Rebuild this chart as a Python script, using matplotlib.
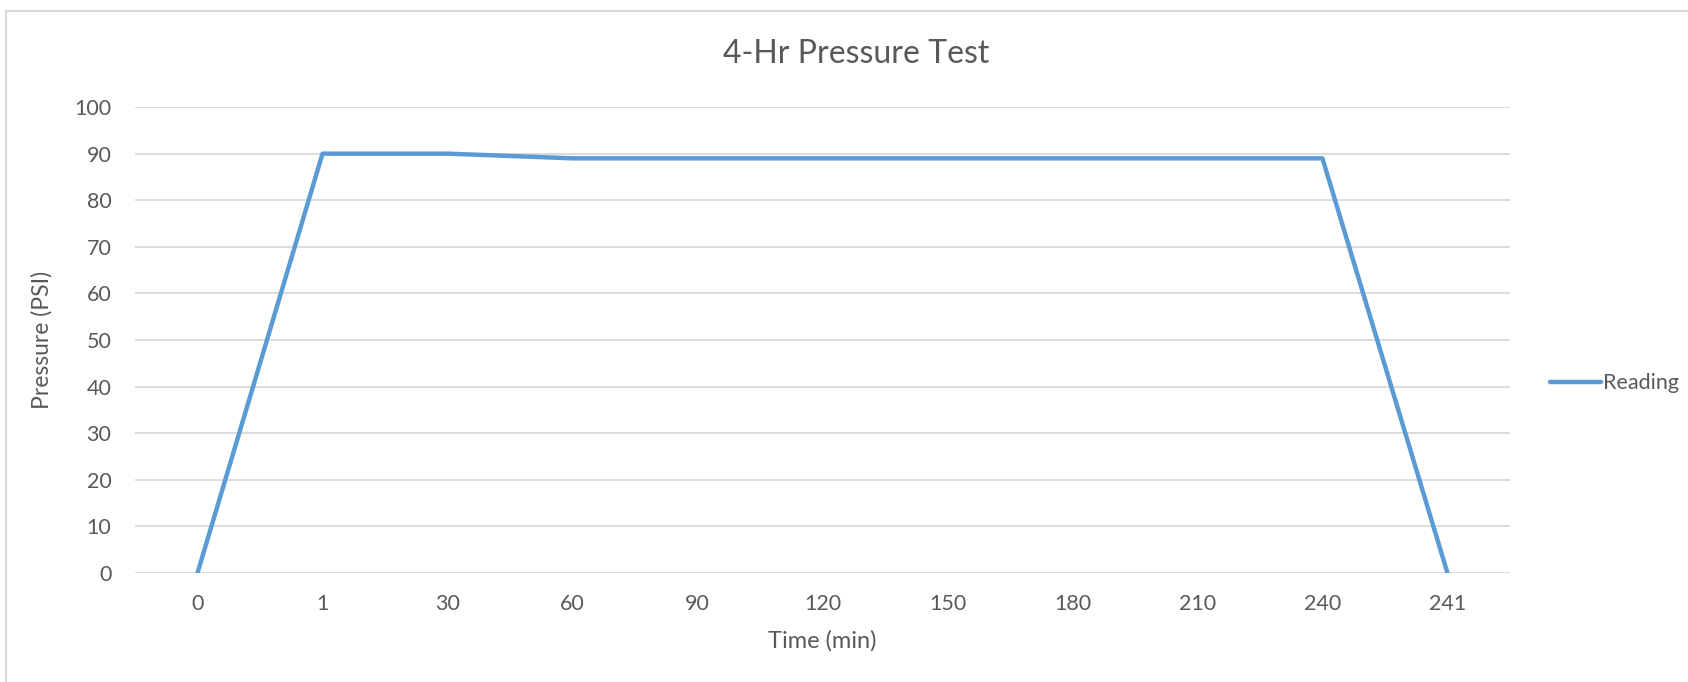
import matplotlib
matplotlib.use("Agg")
import matplotlib.pyplot as plt
from matplotlib.patches import Rectangle
from matplotlib.lines import Line2D

# data
time_labels = ["0", "1", "30", "60", "90", "120", "150", "180", "210", "240", "241"]
pressure = [0, 90, 90, 89, 89, 89, 89, 89, 89, 89, 0]
y_ticks = [0, 10, 20, 30, 40, 50, 60, 70, 80, 90, 100]

line_color = "#5B9BD5"
text_color = "#595959"
grid_color = "#D9D9D9"

plt.rcParams["font.family"] = ["Lato", "DejaVu Sans"]

fig = plt.figure(figsize=(16.88, 6.82), dpi=100)
ax = fig.add_axes([0.080, 0.160, 0.8145, 0.683])

x = list(range(len(time_labels)))
ax.plot(x, pressure, color=line_color, linewidth=3.2, solid_capstyle="round",
        solid_joinstyle="round", label="Reading")

ax.set_xlim(-0.5, len(time_labels) - 0.5)
ax.set_ylim(0, 100)
ax.set_xticks(x)
ax.set_xticklabels(time_labels)
ax.set_yticks(y_ticks)
ax.tick_params(length=0, labelsize=15.5, colors=text_color)
ax.tick_params(axis="x", pad=15)
ax.tick_params(axis="y", pad=17)
ax.grid(axis="y", color=grid_color, linewidth=1.3)
ax.set_axisbelow(True)
for s in ax.spines.values():
    s.set_visible(False)

ax.set_xlabel("Time (min)", fontsize=17, color=text_color, labelpad=12)
ax.set_ylabel("Pressure (PSI)", fontsize=16.5, color=text_color, labelpad=16)
fig.text(0.507, 0.921, "4-Hr Pressure Test", fontsize=23, color=text_color,
         ha="center", va="center")

# legend on the right
fig.legend(handles=[Line2D([0], [0], color=line_color, linewidth=3.2, solid_capstyle="round")],
           labels=["Reading"], loc="center left", bbox_to_anchor=(0.918, 0.438),
           frameon=False, fontsize=15.5, handlelength=2.4, handletextpad=0.1,
           labelcolor=text_color, borderaxespad=0, borderpad=0)

# chart border (only top and left visible)
fig.patches.append(Rectangle((6 / 1688, -0.1), 1.2, 1.1 - 11 / 682, transform=fig.transFigure,
                             fill=False, edgecolor=grid_color, linewidth=1.5))

fig.savefig("out.png", dpi=100, facecolor="white")
